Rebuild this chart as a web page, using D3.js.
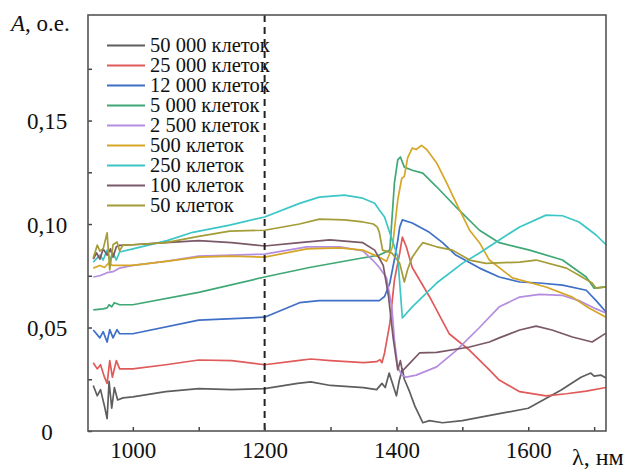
<!DOCTYPE html>
<html>
<head>
<meta charset="utf-8">
<script src="https://cdn.jsdelivr.net/npm/d3@7"></script>
<style>
  body { margin: 0; background: #fff; }
  svg text { font-family: "Liberation Serif", "Tinos", "Times New Roman", "DejaVu Serif", "Noto Serif", serif; }
</style>
</head>
<body>
<script>
// series labels and colours (legend order)
var seriesNames = ["50 000 клеток", "25 000 клеток", "12 000 клеток", "5 000 клеток",
  "2 500 клеток", "500 клеток", "250 клеток", "100 клеток", "50 клеток"];
var seriesColors = ["#5e5e5e", "#e05a5a", "#3f6fc6", "#3fa876", "#b58de0",
  "#d6a626", "#3cc6c6", "#7a5867", "#a49c36"];

// [wavelength nm, absorbance]
var cells50000 = [[940,0.022],[946,0.017],[951,0.020],[957,0.012],[961,0.006],[964,0.024],[968,0.011],[972,0.021],[977,0.015],[985,0.016],[1000,0.0165],[1050,0.019],[1100,0.0205],[1150,0.020],[1200,0.0205],[1250,0.023],[1270,0.0237],[1300,0.022],[1350,0.021],[1370,0.020],[1378,0.023],[1383,0.021],[1389,0.028],[1395,0.022],[1400,0.017],[1404,0.024],[1409,0.030],[1412,0.025],[1420,0.019],[1428,0.012],[1440,0.004],[1450,0.005],[1470,0.004],[1500,0.005],[1550,0.008],[1600,0.011],[1650,0.0198],[1680,0.026],[1695,0.028],[1700,0.0265],[1710,0.027],[1718,0.0256]];
var cells25000 = [[940,0.033],[946,0.030],[951,0.032],[957,0.026],[961,0.023],[965,0.034],[969,0.026],[975,0.034],[980,0.030],[1000,0.030],[1050,0.032],[1100,0.0343],[1150,0.034],[1200,0.032],[1250,0.034],[1270,0.0348],[1300,0.034],[1350,0.033],[1370,0.0335],[1375,0.0345],[1378,0.033],[1382,0.0377],[1390,0.052],[1397,0.073],[1405,0.086],[1409,0.0937],[1415,0.089],[1424,0.079],[1450,0.065],[1480,0.047],[1511,0.039],[1541,0.0295],[1556,0.0246],[1587,0.019],[1627,0.017],[1658,0.018],[1688,0.0193],[1718,0.021]];
var cells12000 = [[940,0.0488],[950,0.045],[955,0.048],[961,0.043],[965,0.049],[970,0.045],[976,0.049],[980,0.047],[1000,0.047],[1100,0.0536],[1200,0.055],[1253,0.062],[1283,0.063],[1350,0.063],[1374,0.063],[1382,0.065],[1390,0.0715],[1397,0.083],[1402,0.092],[1405,0.0985],[1409,0.102],[1424,0.1005],[1450,0.096],[1470,0.091],[1490,0.085],[1526,0.0787],[1556,0.0744],[1587,0.072],[1617,0.0715],[1652,0.0705],[1688,0.068],[1703,0.063],[1718,0.0575]];
var cells5000 = [[940,0.0585],[955,0.059],[961,0.0595],[964,0.061],[968,0.060],[972,0.062],[980,0.061],[1000,0.061],[1100,0.067],[1200,0.0744],[1268,0.079],[1348,0.0836],[1374,0.085],[1390,0.0874],[1397,0.12],[1402,0.131],[1406,0.1324],[1412,0.1275],[1424,0.126],[1440,0.1246],[1461,0.118],[1491,0.108],[1526,0.097],[1556,0.091],[1602,0.0874],[1652,0.0826],[1688,0.0744],[1700,0.069],[1718,0.0696]];
var cells2500 = [[940,0.0744],[950,0.075],[961,0.0765],[970,0.077],[980,0.0787],[1000,0.080],[1050,0.082],[1100,0.0845],[1150,0.085],[1200,0.0855],[1264,0.089],[1314,0.089],[1349,0.087],[1364,0.0826],[1374,0.079],[1385,0.074],[1393,0.060],[1397,0.044],[1402,0.031],[1408,0.027],[1415,0.026],[1430,0.027],[1461,0.031],[1491,0.039],[1526,0.050],[1556,0.060],[1587,0.0647],[1617,0.066],[1652,0.0655],[1677,0.063],[1703,0.059],[1718,0.057]];
var cells500 = [[940,0.0787],[950,0.080],[957,0.079],[963,0.081],[970,0.080],[980,0.080],[1000,0.080],[1050,0.082],[1100,0.084],[1150,0.0845],[1200,0.084],[1264,0.088],[1314,0.0885],[1349,0.0874],[1374,0.084],[1385,0.082],[1394,0.089],[1402,0.1116],[1408,0.122],[1412,0.123],[1417,0.132],[1424,0.1367],[1430,0.136],[1438,0.138],[1446,0.136],[1461,0.1295],[1476,0.120],[1491,0.110],[1511,0.097],[1526,0.091],[1541,0.0826],[1576,0.074],[1627,0.0696],[1667,0.0647],[1692,0.0594],[1718,0.055]];
var cells250 = [[940,0.0816],[950,0.085],[955,0.0826],[961,0.0874],[965,0.0826],[970,0.086],[975,0.0826],[980,0.0865],[1000,0.088],[1052,0.092],[1091,0.096],[1147,0.0995],[1200,0.1034],[1253,0.110],[1283,0.113],[1321,0.114],[1349,0.1125],[1367,0.110],[1374,0.1068],[1382,0.1034],[1390,0.0957],[1397,0.089],[1402,0.084],[1409,0.0546],[1424,0.060],[1461,0.0715],[1500,0.081],[1526,0.086],[1556,0.0923],[1587,0.0986],[1627,0.1043],[1652,0.104],[1677,0.101],[1703,0.0947],[1718,0.090]];
var cells100 = [[940,0.083],[945,0.086],[950,0.083],[955,0.088],[961,0.085],[966,0.088],[970,0.084],[975,0.089],[980,0.0897],[1000,0.090],[1050,0.091],[1100,0.092],[1150,0.091],[1200,0.0894],[1253,0.091],[1299,0.0923],[1349,0.091],[1367,0.0874],[1380,0.080],[1388,0.065],[1395,0.045],[1402,0.0295],[1406,0.034],[1409,0.029],[1415,0.031],[1435,0.0377],[1461,0.038],[1511,0.0406],[1541,0.043],[1556,0.045],[1587,0.0488],[1612,0.0507],[1636,0.0488],[1667,0.0454],[1697,0.043],[1718,0.0473]];
var cells50 = [[940,0.0836],[946,0.0898],[950,0.087],[955,0.088],[961,0.0957],[965,0.0778],[970,0.090],[976,0.0913],[980,0.087],[985,0.0898],[1000,0.090],[1050,0.091],[1100,0.094],[1147,0.0966],[1200,0.097],[1253,0.100],[1283,0.1024],[1321,0.102],[1349,0.101],[1365,0.100],[1371,0.0985],[1374,0.096],[1379,0.0874],[1393,0.086],[1405,0.081],[1412,0.072],[1417,0.078],[1424,0.084],[1435,0.089],[1440,0.091],[1461,0.089],[1485,0.0874],[1511,0.0826],[1536,0.081],[1587,0.0816],[1612,0.0826],[1658,0.0787],[1677,0.0753],[1697,0.0715],[1703,0.069],[1718,0.0696]];

// ticks
var xTicks = [1000, 1100, 1200, 1300, 1400, 1500, 1600, 1700];
var xLabels = [1000, 1200, 1400, 1600];
var yTicks = [0, 0.025, 0.05, 0.075, 0.10, 0.125, 0.15, 0.175];
var yLabels = {"0": "0", "0.05": "0,05", "0.1": "0,10", "0.15": "0,15"};
var markerLine = 1200;

var allSeries = [cells50000, cells25000, cells12000, cells5000, cells2500, cells500, cells250, cells100, cells50];

var margin = {top: 15, right: 36, bottom: 39, left: 88};
var svgWidth = 642, svgHeight = 470;
var chartWidth = svgWidth - margin.left - margin.right;
var chartHeight = svgHeight - margin.top - margin.bottom;

var svg = d3.select("body").append("svg")
  .attr("width", svgWidth)
  .attr("height", svgHeight);

var chartGroup = svg.append("g")
  .attr("transform", `translate(${margin.left}, ${margin.top})`);

var x = d3.scaleLinear().domain([932, 1718]).range([0, chartWidth]);
var y = d3.scaleLinear().domain([0, 0.201]).range([chartHeight, 0]);

// curves
var line = d3.line()
  .x(function (d) { return x(d[0]); })
  .y(function (d) { return y(d[1]); });

chartGroup.append("g")
  .selectAll("path")
  .data(allSeries)
  .enter()
  .append("path")
  .attr("d", line)
  .attr("fill", "none")
  .attr("stroke", function (d, i) { return seriesColors[i]; })
  .attr("stroke-width", 1.7)
  .attr("stroke-linejoin", "round");

// dashed marker
chartGroup.append("line")
  .attr("x1", x(markerLine)).attr("x2", x(markerLine))
  .attr("y1", 0).attr("y2", chartHeight)
  .attr("stroke", "#222")
  .attr("stroke-width", 2)
  .attr("stroke-dasharray", "7,5");

// axes: inward ticks, labels only on major
var xAxis = d3.axisBottom(x)
  .tickValues(xTicks)
  .tickSizeInner(-4).tickSizeOuter(0)
  .tickPadding(11)
  .tickFormat(function (d) { return xLabels.indexOf(d) >= 0 ? d : ""; });
var gx = chartGroup.append("g")
  .attr("transform", "translate(0," + chartHeight + ")")
  .call(xAxis);

var yAxis = d3.axisLeft(y)
  .tickValues(yTicks)
  .tickSizeInner(-4).tickSizeOuter(0)
  .tickFormat(function (d) { return yLabels[String(+d.toFixed(3))] || ""; });
var gy = chartGroup.append("g").call(yAxis);

[gx, gy].forEach(function (g) {
  g.attr("font-family", null);
  g.select(".domain").remove();
  g.selectAll(".tick line").attr("stroke", "#444").attr("stroke-width", 1.5);
  g.selectAll(".tick text")
    .attr("fill", "#111")
    .style("font-size", "23px");
});
// y labels are centred in the left gutter
gy.selectAll(".tick text")
  .attr("x", -41)
  .attr("text-anchor", "middle")
  .attr("dy", "0.36em");

// frame
chartGroup.append("rect")
  .attr("x", 0).attr("y", 0)
  .attr("width", chartWidth).attr("height", chartHeight)
  .attr("fill", "none")
  .attr("stroke", "#555")
  .attr("stroke-width", 1.6);

// legend
var legend = chartGroup.append("g")
  .attr("transform", "translate(19, 30.5)");
var rows = legend.selectAll("g")
  .data(seriesNames)
  .enter()
  .append("g")
  .attr("transform", function (d, i) { return "translate(0," + (i * 20) + ")"; });
rows.append("line")
  .attr("x1", 0).attr("x2", 38)
  .attr("stroke", function (d, i) { return seriesColors[i]; })
  .attr("stroke-width", 2);
rows.append("text")
  .attr("x", 43)
  .attr("dy", "0.33em")
  .attr("fill", "#111")
  .style("font-size", "20.5px")
  .text(function (d) { return d; });

// axis titles
var yTitle = svg.append("text")
  .attr("x", 11)
  .attr("y", 31)
  .attr("fill", "#111")
  .style("font-size", "23px");
yTitle.append("tspan").attr("font-style", "italic").text("A");
yTitle.append("tspan").text(", о.е.");

svg.append("text")
  .attr("x", 572)
  .attr("y", 465)
  .attr("fill", "#111")
  .style("font-size", "24px")
  .text("λ, нм");
</script>
</body>
</html>
